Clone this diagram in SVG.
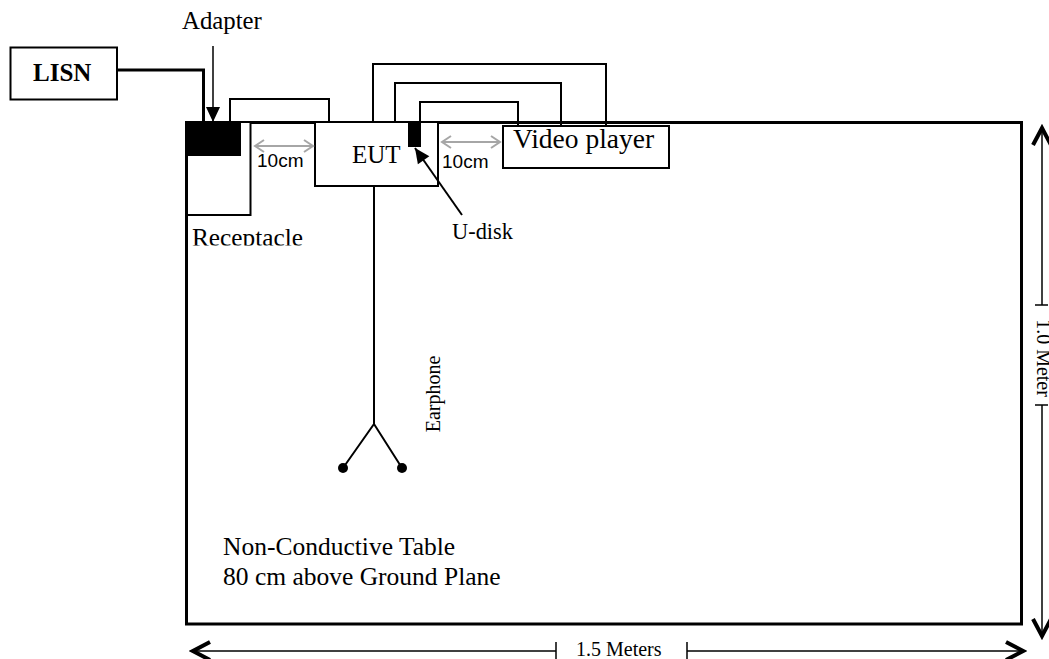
<svg xmlns="http://www.w3.org/2000/svg" width="1049" height="659" viewBox="0 0 1049 659">
<style>
.ln{fill:none;stroke:#000;stroke-width:2}
.thk{fill:none;stroke:#000;stroke-width:3}
.box{fill:#fff;stroke:#000;stroke-width:2}
.ser{font-family:"Liberation Serif","Times New Roman",serif;fill:#000}
.san{font-family:"Liberation Sans",Arial,sans-serif;fill:#000}
.gray{fill:none;stroke:#a6a6a6;stroke-width:2}
.dim{fill:none;stroke:#000;stroke-width:1.5}
</style>
<defs>
<marker id="chev" viewBox="-22 -12 26 24" markerWidth="26" markerHeight="24" refX="0" refY="0" orient="auto-start-reverse" markerUnits="userSpaceOnUse">
<path d="M-17,-9 L0,0 L-17,9" fill="none" stroke="#000" stroke-width="4" stroke-linejoin="miter"/>
</marker>
<marker id="gchev" viewBox="-12 -8 14 16" markerWidth="14" markerHeight="16" refX="0" refY="0" orient="auto-start-reverse" markerUnits="userSpaceOnUse">
<path d="M-9,-6 L0,0 L-9,6" fill="none" stroke="#a6a6a6" stroke-width="2"/>
</marker>
<marker id="tri" viewBox="-16 -8 17 16" markerWidth="17" markerHeight="16" refX="0" refY="0" orient="auto" markerUnits="userSpaceOnUse">
<path d="M0,0 L-15,-7 L-15,7 Z" fill="#000"/>
</marker>
<clipPath id="recClip"><rect x="180" y="220" width="140" height="25.5"/></clipPath>
</defs>

<g id="table">
<rect x="186.5" y="122.5" width="835" height="501.5" fill="#fff" stroke="#000" stroke-width="3"/>
<text class="ser" x="223" y="555" font-size="25.5">Non-Conductive Table</text>
<text class="ser" x="223" y="585" font-size="25.5">80 cm above Ground Plane</text>
</g>

<g id="lisn">
<rect x="10.5" y="47.5" width="106.5" height="52" class="box"/>
<text class="ser" x="33" y="81" font-size="25" font-weight="bold">LISN</text>
</g>

<g id="receptacle">
<rect x="187" y="122" width="63.5" height="93" class="box"/>
<text class="ser" x="192" y="246" font-size="25.3" clip-path="url(#recClip)">Receptacle</text>
</g>

<g id="adapter">
<rect x="186" y="122" width="55" height="34" fill="#000"/>
<text class="ser" x="182" y="29" font-size="24.8">Adapter</text>
</g>

<g id="eut">
<rect x="315" y="122" width="123" height="64" class="box"/>
<text class="ser" x="352" y="163" font-size="25">EUT</text>
</g>

<g id="udisk">
<rect x="408" y="123" width="13" height="24" fill="#000"/>
<text class="ser" x="452" y="239" font-size="22.4">U-disk</text>
</g>

<g id="video-player">
<rect x="503" y="126" width="166" height="42" class="box"/>
<text class="ser" x="513" y="148" font-size="27.5">Video player</text>
</g>

<g id="earphone">
<path d="M374,186 V424 M343,468 L374,424 L402,468" class="ln"/>
<circle cx="343" cy="468" r="5" fill="#000"/>
<circle cx="402" cy="468" r="5" fill="#000"/>
<text class="ser" font-size="20" text-anchor="middle" transform="translate(440,394) rotate(-90)">Earphone</text>
</g>

<g id="connectors">
<path d="M117,70 H203.5 V122" class="thk"/>
<path d="M230,122 V99 H329 V122" class="ln"/>
<path d="M373,122 V64 H606 V125" class="ln"/>
<path d="M395,122 V83 H561 V125" class="ln"/>
<path d="M420,123 V102 H518 V125" class="ln"/>
<line x1="213" y1="46" x2="213" y2="122" stroke="#000" stroke-width="1.5" marker-end="url(#tri)"/>
<line x1="462" y1="215" x2="415" y2="148" stroke="#000" stroke-width="2" marker-end="url(#tri)"/>
<line x1="255" y1="146" x2="313" y2="146" class="gray" marker-start="url(#gchev)" marker-end="url(#gchev)"/>
<line x1="442" y1="142" x2="500" y2="142" class="gray" marker-start="url(#gchev)" marker-end="url(#gchev)"/>
</g>
<g id="labels-10cm">
<text class="san" x="257" y="167" font-size="19">10cm</text>
<text class="san" x="442" y="168" font-size="19">10cm</text>
</g>

<g id="dimensions">
<line x1="1042" y1="128" x2="1042" y2="305" class="dim" marker-start="url(#chev)"/>
<line x1="1042" y1="405" x2="1042" y2="636" class="dim" marker-end="url(#chev)"/>
<line x1="1035" y1="305" x2="1048" y2="305" class="dim"/>
<line x1="1035" y1="405" x2="1048" y2="405" class="dim"/>
<text class="ser" font-size="20" text-anchor="middle" transform="translate(1037,358) rotate(90)">1.0 Meter</text>
<line x1="193" y1="651" x2="556" y2="651" class="dim" marker-start="url(#chev)"/>
<line x1="687" y1="651" x2="1023" y2="651" class="dim" marker-end="url(#chev)"/>
<line x1="556" y1="642" x2="556" y2="661" class="dim"/>
<line x1="687" y1="642" x2="687" y2="661" class="dim"/>
<text class="ser" x="576" y="656" font-size="20">1.5 Meters</text>
</g>
</svg>
